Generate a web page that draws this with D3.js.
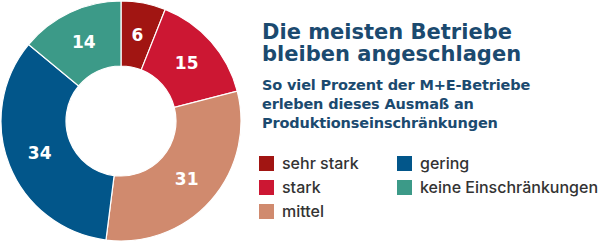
<!DOCTYPE html>
<html><head><meta charset="utf-8">
<script src="https://cdn.jsdelivr.net/npm/d3@7"></script>
<style>html,body{margin:0;padding:0;background:#fff;}svg{display:block;}</style>
</head><body>
<script>
const categories = ["sehr stark","stark","mittel","gering","keine Einschränkungen"];
const values = [6,15,31,34,14];
const colors = ["#a11512","#cc1733","#d08a6e","#02568a","#3c9a88"];
const titleLines = ["Die meisten Betriebe","bleiben angeschlagen"];
const subtitleLines = ["So viel Prozent der M+E-Betriebe","erleben dieses Ausmaß an","Produktionseinschränkungen"];

const W=600,H=243;
const svg=d3.select("body").append("svg").attr("width",W).attr("height",H);
const cx=121,cy=121,R=120,r0=55;
const pie=d3.pie().sort(null).value(d=>d)(values);
const arc=d3.arc().innerRadius(r0).outerRadius(R);
const labelArc=d3.arc().innerRadius((r0+R)/2).outerRadius((r0+R)/2);
const g=svg.append("g").attr("transform",`translate(${cx},${cy})`);
g.selectAll("path").data(pie).join("path").attr("d",arc)
 .attr("fill",(d,i)=>colors[i]).attr("stroke","#fff").attr("stroke-width",1.2);
g.selectAll("text").data(pie).join("text")
 .attr("transform",d=>`translate(${labelArc.centroid(d)})`)
 .attr("text-anchor","middle").attr("dy","0.36em")
 .attr("fill","#fff").attr("font-family","'DejaVu Sans', sans-serif").attr("font-weight",700)
 .attr("font-size",17).text(d=>d.data);

const title=svg.append("text").attr("font-family","'DejaVu Sans', sans-serif").attr("font-weight",700)
 .attr("font-size",21).attr("fill","#1b4a6f");
titleLines.forEach((t,i)=>title.append("tspan").attr("x",262).attr("y",39+i*22).text(t));
const sub=svg.append("text").attr("font-family","'DejaVu Sans', sans-serif").attr("font-weight",700)
 .attr("font-size",14.5).attr("letter-spacing",-0.15).attr("fill","#1b4a6f");
subtitleLines.forEach((t,i)=>sub.append("tspan").attr("x",262).attr("y",90+i*19).text(t));

const leg=svg.append("g");
const pos=[[259,156],[259,180],[259,204],[397,156],[397,180]];
categories.forEach((c,i)=>{
  leg.append("rect").attr("x",pos[i][0]).attr("y",pos[i][1]).attr("width",15).attr("height",15).attr("fill",colors[i]);
  leg.append("text").attr("x",pos[i][0]+23).attr("y",pos[i][1]+12.5)
   .attr("font-family","Inter, sans-serif").attr("font-weight",500).attr("font-size",16)
   .attr("fill","#333").text(c);
});
</script>
</body></html>
